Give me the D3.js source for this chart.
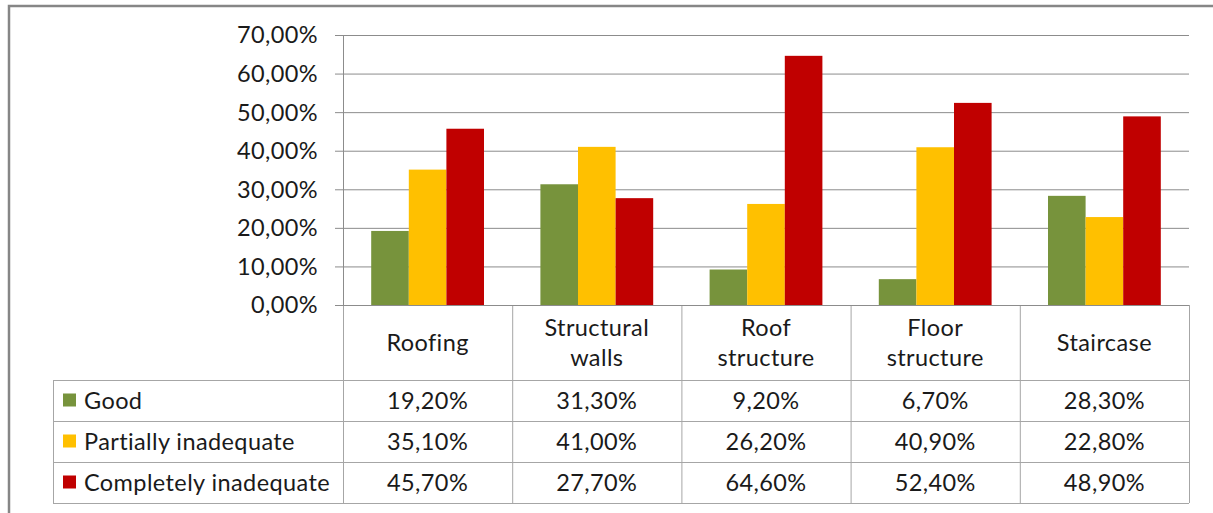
<!DOCTYPE html>
<html>
<head>
<meta charset="utf-8">
<script src="https://cdn.jsdelivr.net/npm/d3@7"></script>
<style>
  body { margin: 0; background: #fff; }
  text { font-family: Lato, "Open Sans", sans-serif; fill: #1a1a1a; letter-spacing: 0.4px; }
</style>
</head>
<body>
<div id="chart-area"></div>
<script>
var categories = [["Roofing"], ["Structural", "walls"], ["Roof", "structure"], ["Floor", "structure"], ["Staircase"]];
var seriesNames = ["Good", "Partially inadequate", "Completely inadequate"];
var good = [19.2, 31.3, 9.2, 6.7, 28.3];
var partial = [35.1, 41.0, 26.2, 40.9, 22.8];
var complete = [45.7, 27.7, 64.6, 52.4, 48.9];
var yTicks = [0, 10, 20, 30, 40, 50, 60, 70];
var colors = ["#77933c", "#ffc000", "#c00000"];

var values = [good, partial, complete];

var W = 1213, H = 513;
var margin = {top: 35, left: 343, right: 24, bottom: 208};
var width = W - margin.left - margin.right;
var height = H - margin.top - margin.bottom;
var fs = "23.5px";

var fmt = function(v) { return v.toFixed(2).replace(".", ",") + "%"; };

var svg = d3.select("#chart-area").append("svg")
	.attr("width", W)
	.attr("height", H);

// chart frame (cut off at right and bottom)
svg.append("rect")
	.attr("x", 9).attr("y", 6)
	.attr("width", W + 20).attr("height", H + 20)
	.attr("fill", "none")
	.attr("stroke", "#868686")
	.attr("stroke-width", 2.5);

var g = svg.append("g")
	.attr("transform", "translate(" + margin.left + ", " + margin.top + ")");

var x0 = d3.scaleBand().domain(d3.range(categories.length)).range([0, width]);
var bw = x0.bandwidth();
var x1 = d3.scaleBand().domain(d3.range(seriesNames.length)).range([bw / 6, bw * 5 / 6]);
var y = d3.scaleLinear().domain([0, 70]).range([height, 0]);

// gridlines
g.selectAll(".grid").data(yTicks).enter().append("line")
	.attr("x1", -8).attr("x2", width)
	.attr("y1", d => y(d) + 0.5).attr("y2", d => y(d) + 0.5)
	.attr("stroke", "#8c8c8c")
	.attr("stroke-width", 1);

// y axis labels
g.selectAll(".ylab").data(yTicks).enter().append("text")
	.attr("x", -25)
	.attr("y", d => y(d))
	.attr("dy", "0.36em")
	.attr("text-anchor", "end")
	.attr("font-size", fs)
	.text(d => fmt(d));

// bars
values.forEach((vals, s) => {
	g.selectAll(".bar" + s).data(vals).enter().append("rect")
		.attr("x", (d, i) => x0(i) + x1(s))
		.attr("width", x1.bandwidth())
		.attr("y", d => y(d))
		.attr("height", d => y(0) - y(d))
		.attr("fill", colors[s]);
});

// axis line
g.append("line")
	.attr("x1", 0.5).attr("x2", 0.5)
	.attr("y1", 0).attr("y2", height)
	.attr("stroke", "#8c8c8c");

// data table
var headH = 75, rowH = 41;
var legendLeft = 53 - margin.left;
var tg = g.append("g").attr("transform", "translate(0," + height + ")");
var lineColor = "#a6a6a6";

// vertical lines
x0.domain().concat([categories.length]).forEach(i => {
	var xp = (i < categories.length ? x0(i) : width) + 0.5;
	tg.append("line")
		.attr("x1", xp).attr("x2", xp)
		.attr("y1", 0).attr("y2", headH + rowH * 3)
		.attr("stroke", lineColor);
});
tg.append("line")
	.attr("x1", legendLeft + 0.5).attr("x2", legendLeft + 0.5)
	.attr("y1", headH).attr("y2", headH + rowH * 3)
	.attr("stroke", lineColor);
// horizontal lines
tg.append("line")
	.attr("x1", 0).attr("x2", width)
	.attr("y1", 0.5).attr("y2", 0.5)
	.attr("stroke", "#8c8c8c");
[0, 1, 2, 3].forEach(r => {
	tg.append("line")
		.attr("x1", legendLeft).attr("x2", width)
		.attr("y1", headH + rowH * r + 0.5).attr("y2", headH + rowH * r + 0.5)
		.attr("stroke", lineColor);
});

// category headers
categories.forEach((lines, i) => {
	var t = tg.append("text")
		.attr("x", x0(i) + bw / 2)
		.attr("text-anchor", "middle")
		.attr("font-size", fs);
	lines.forEach((ln, k) => {
		t.append("tspan")
			.attr("x", x0(i) + bw / 2)
			.attr("y", headH / 2 + (k - (lines.length - 1) / 2) * 30)
			.attr("dy", "0.36em")
			.text(ln);
	});
});

// rows
seriesNames.forEach((name, s) => {
	var cy = headH + rowH * s + rowH / 2;
	tg.append("rect")
		.attr("x", legendLeft + 10).attr("y", cy - 7)
		.attr("width", 13).attr("height", 13)
		.attr("fill", colors[s]);
	tg.append("text")
		.attr("x", legendLeft + 31)
		.attr("y", cy)
		.attr("dy", "0.36em")
		.attr("font-size", fs)
		.text(name);
	values[s].forEach((v, i) => {
		tg.append("text")
			.attr("x", x0(i) + bw / 2)
			.attr("y", cy)
			.attr("dy", "0.36em")
			.attr("text-anchor", "middle")
			.attr("font-size", fs)
			.text(fmt(v));
	});
});
</script>
</body>
</html>
